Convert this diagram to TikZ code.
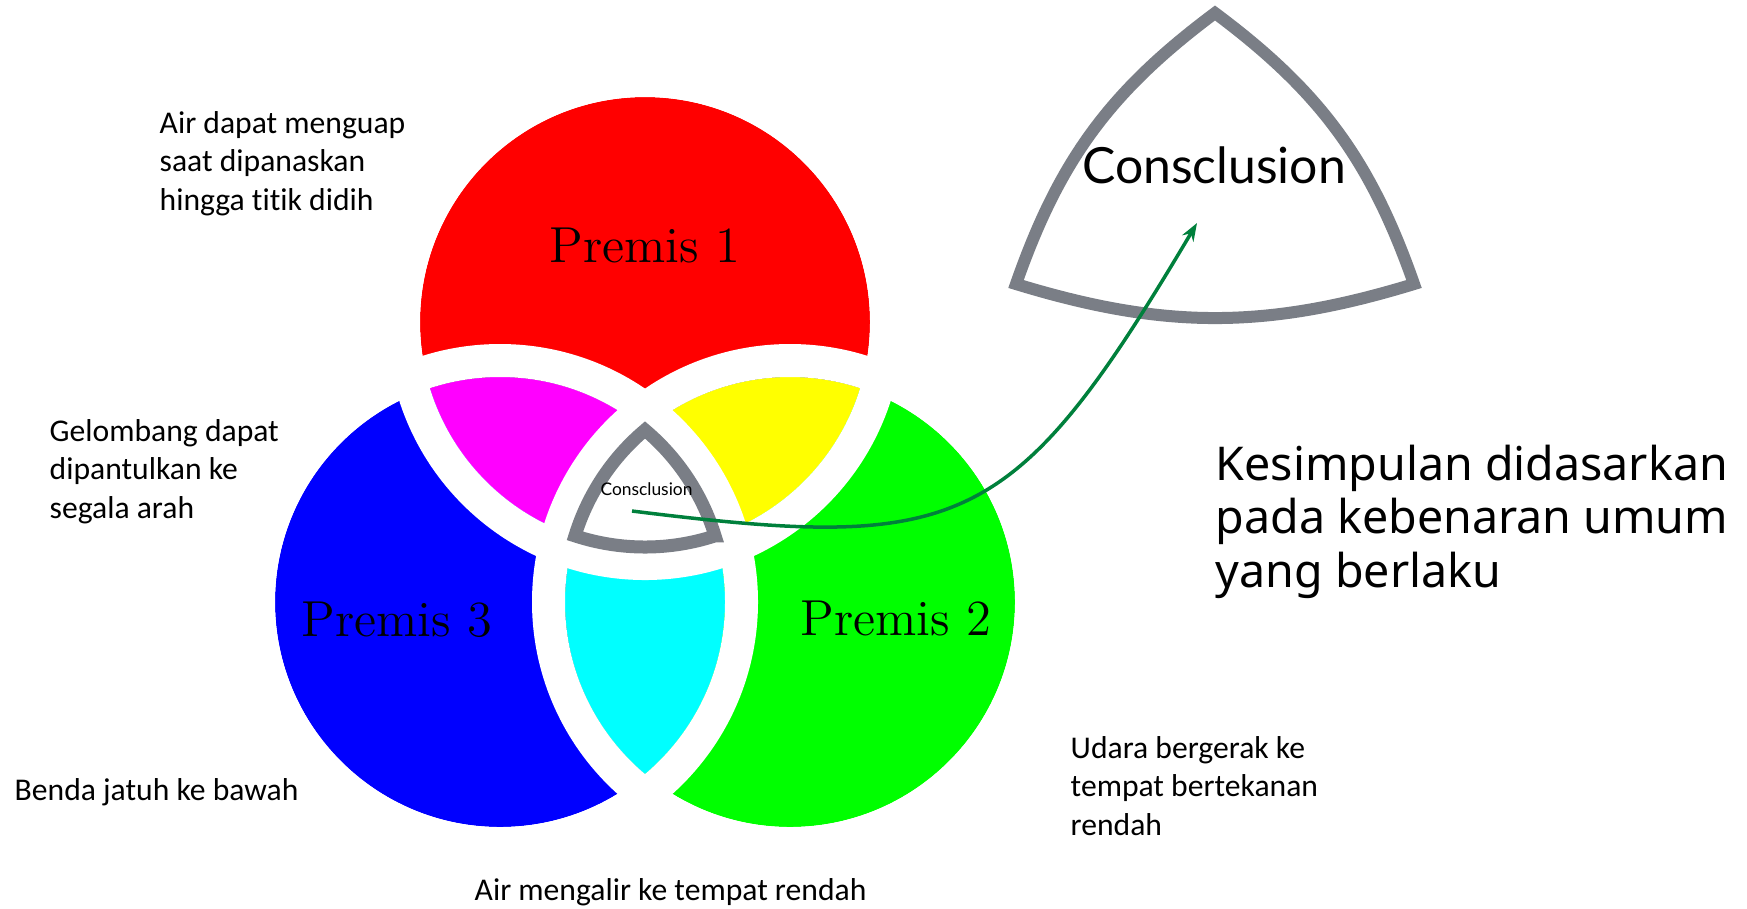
\documentclass[tikz,border=0pt]{standalone}
\usepackage{fontspec}
\usetikzlibrary{arrows.meta}
\newfontfamily\calfont[Ligatures=NoCommon]{Carlito}
\newfontfamily\geofont{Lato}
\newfontfamily\lightfont{Noto Sans}
\definecolor{concgray}{RGB}{122,126,134}
\definecolor{arrgreen}{RGB}{0,128,60}
\definecolor{vred}{RGB}{255,0,0}
\definecolor{vblue}{RGB}{0,0,255}
\definecolor{vgreen}{RGB}{0,255,0}
\definecolor{vmag}{RGB}{255,0,255}
\definecolor{vyel}{RGB}{255,255,0}
\definecolor{vcyan}{RGB}{0,255,255}

\begin{document}
\begin{tikzpicture}[
    ring/.style={draw=white, line width=0.33cm},
    concl/.style={draw=concgray, fill=white, line width=0.13cm},
    premis/.style={anchor=base, inner sep=0pt, font=\fontsize{14.4}{17}\selectfont},
    note/.style={anchor=base west, align=left, inner sep=0pt, font=\calfont\fontsize{9}{10.9}\selectfont},
    cword/.style={anchor=base, inner sep=0pt, font=\geofont},
    arr/.style={-{Stealth[length=0.18cm, width=0.13cm]}, line width=0.035cm, draw=arrgreen}
  ]
    \useasboundingbox (0,0) rectangle (17.47,-9.08);

    \coordinate (cR) at (6.45,-3.22);
    \coordinate (cB) at (5.00,-6.02);
    \coordinate (cG) at (7.90,-6.02);

    \fill[vred]   (cR) circle (2.25);
    \fill[vblue]  (cB) circle (2.25);
    \fill[vgreen] (cG) circle (2.25);
    \begin{scope}
      \clip (cR) circle (2.25);
      \fill[vmag] (cB) circle (2.25);
      \fill[vyel] (cG) circle (2.25);
    \end{scope}
    \begin{scope}
      \clip (cB) circle (2.25);
      \fill[vcyan] (cG) circle (2.25);
    \end{scope}
    \draw[ring] (cR) circle (2.415);
    \draw[ring] (cB) circle (2.415);
    \draw[ring] (cG) circle (2.415);

    \coordinate (vBR) at (7.1504,-5.3582);
    \draw[concl] (vBR) arc[start angle=-71.86, end angle=-108.14, radius=2.25]
      arc[start angle=162.89, end angle=130.12, radius=2.25]
      arc[start angle=49.88, end angle=17.11, radius=2.25] -- cycle;

    \coordinate (tT) at (12.15,-0.13);
    \coordinate (tL) at (10.16,-2.84);
    \coordinate (tR) at (14.14,-2.84);
    \draw[concl, line width=0.12cm] (tL) to[bend left=17] (tT)
      to[bend left=17] (tR) to[bend left=17] (tL) -- cycle;

    \node[premis] (p1) at (6.45,-2.62) {Premis 1};
    \node[premis] (p2) at (8.96,-6.35) {Premis 2};
    \node[premis] (p3) at (3.97,-6.36) {Premis 3};

    \node[cword, font=\geofont\fontsize{14.2}{17}\selectfont] (cbig) at (12.14,-1.83) {Consclusion};
    \node[cword, font=\geofont\fontsize{4.95}{6}\selectfont] (csmall) at (6.465,-4.95) {Consclusion};

    \node[note] (n1) at (1.59,-2.10) {Air dapat menguap\\saat dipanaskan\\hingga titik didih};
    \node[note] (n2) at (0.49,-5.18) {Gelombang dapat\\dipantulkan ke\\segala arah};
    \node[note] (n3) at (0.14,-8.00) {Benda jatuh ke bawah};
    \node[note] (n4) at (4.74,-9.00) {Air mengalir ke tempat rendah};
    \node[note] (n5) at (10.70,-8.35) {Udara bergerak ke\\tempat bertekanan\\rendah};
    \node[anchor=base west, align=left, inner sep=0pt,
      font=\lightfont\fontsize{13.25}{15.2}\selectfont] (kes) at (12.15,-5.87)
      {Kesimpulan didasarkan\\pada kebenaran umum\\yang berlaku};

    \coordinate (aS) at (6.32,-5.11);
    \coordinate (aE) at (11.97,-2.23);
    \draw[arr] (aS) .. controls (9.62,-5.52) and (10.13,-5.33) .. (aE);
  \end{tikzpicture}
\end{document}
